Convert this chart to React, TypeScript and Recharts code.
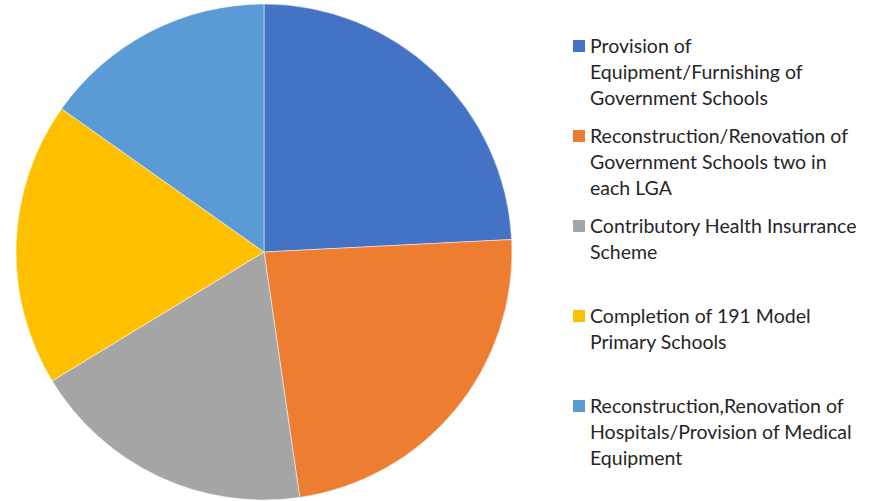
import { Cell, Legend, Pie, PieChart } from "recharts";

const projects: string[] = [
  "Provision of Equipment/Furnishing of Government Schools",
  "Reconstruction/Renovation of Government Schools two in each LGA",
  "Contributory Health Insurrance Scheme",
  "Completion of 191 Model Primary Schools",
  "Reconstruction,Renovation of Hospitals/Provision of Medical Equipment",
];

// legend lines as they wrap in the original
const legendLines: string[][] = [
  ["Provision of", "Equipment/Furnishing of", "Government Schools"],
  ["Reconstruction/Renovation of", "Government Schools two in", "each LGA"],
  ["Contributory Health Insurrance", "Scheme"],
  ["Completion of 191 Model", "Primary Schools"],
  ["Reconstruction,Renovation of", "Hospitals/Provision of Medical", "Equipment"],
];

const shares: number[] = [24.2, 23.5, 18.6, 18.5, 15.2];

const colors = ["#4472C4", "#ED7D31", "#A5A5A5", "#FFC000", "#5B9BD5"];

const data = projects.map((name, i) => ({ name, value: shares[i] }));

const LegendContent = () => (
  <div style={{ fontFamily: "Lato, sans-serif", fontSize: 19.5, color: "#262626" }}>
    {legendLines.map((lines, i) => (
      <div key={i} style={{ position: "relative", height: 90, paddingLeft: 17 }}>
        <span
          style={{
            position: "absolute",
            left: 0,
            top: 7,
            width: 12,
            height: 12,
            background: colors[i],
          }}
        />
        {lines.map((l, j) => (
          <div key={j} style={{ lineHeight: "26px", whiteSpace: "nowrap" }}>{l}</div>
        ))}
      </div>
    ))}
  </div>
);

function App() {
  return (
    <div style={{ position: "absolute", left: 0, top: 0 }}>
      <PieChart width={875} height={501} margin={{ top: 0, right: 0, bottom: 0, left: 0 }}>
        <Pie
          data={data}
          dataKey="value"
          nameKey="name"
          cx={264}
          cy={252}
          outerRadius={248}
          startAngle={90}
          endAngle={-270}
          stroke="#fff"
          strokeWidth={0.5}
          isAnimationActive={false}
        >
          {data.map((_d, i) => (
            <Cell key={`cell-${i}`} fill={colors[i]} />
          ))}
        </Pie>
        <Legend
          layout="vertical"
          content={<LegendContent />}
          wrapperStyle={{ left: 573, top: 33, width: 300 }}
        />
      </PieChart>
    </div>
  );
}

export default App;
